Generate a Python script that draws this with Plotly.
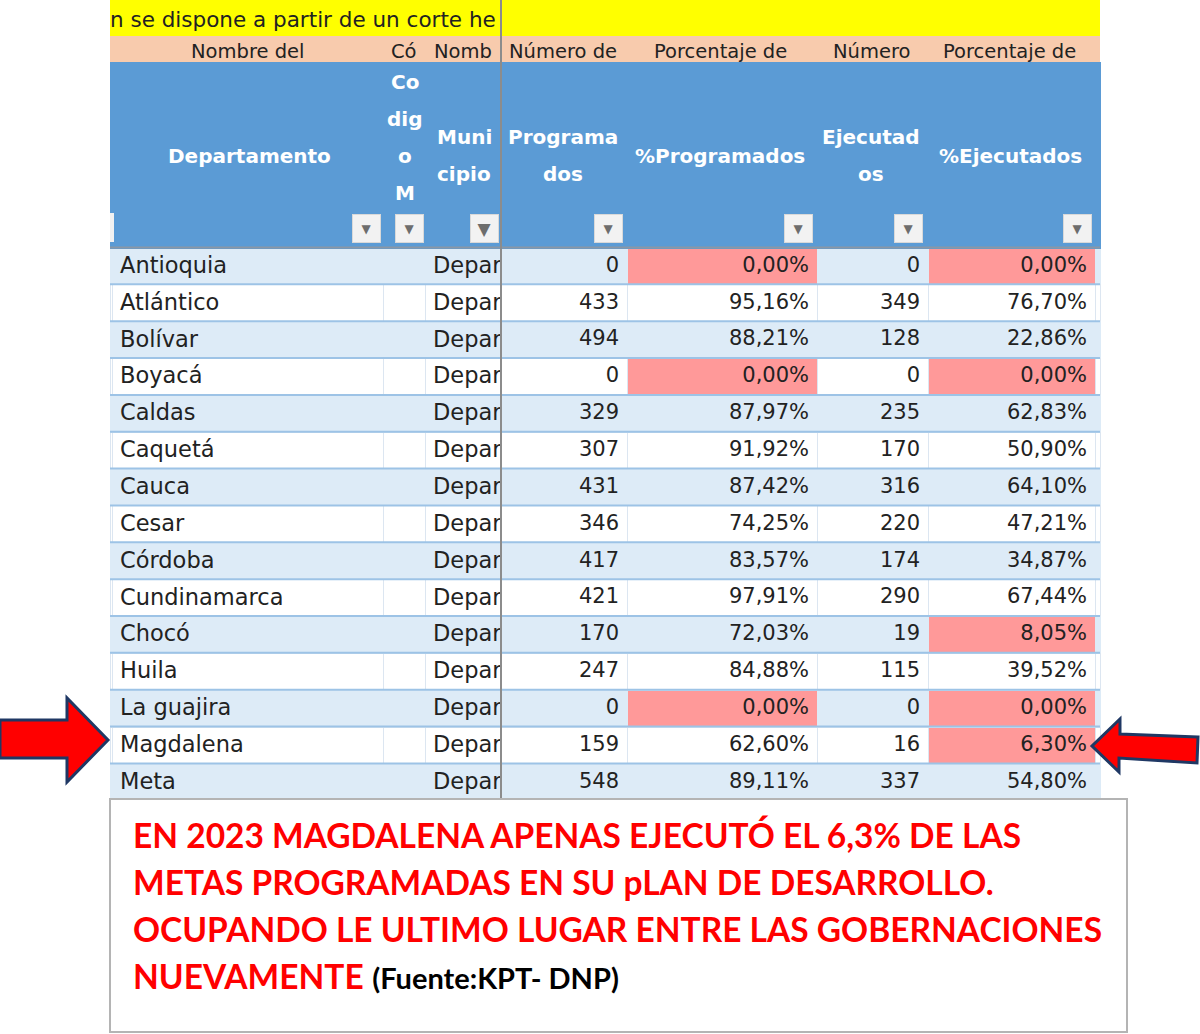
import plotly.graph_objects as go

W, H = 1200, 1034

# table content
departamentos = ['Antioquia', 'Atlántico', 'Bolívar', 'Boyacá', 'Caldas', 'Caquetá', 'Cauca', 'Cesar',
	'Córdoba', 'Cundinamarca', 'Chocó', 'Huila', 'La guajira', 'Magdalena', 'Meta']
municipio = ['Depar'] * len(departamentos)
programados = [0, 433, 494, 0, 329, 307, 431, 346, 417, 421, 170, 247, 0, 159, 548]
pct_programados = ['0,00%', '95,16%', '88,21%', '0,00%', '87,97%', '91,92%', '87,42%', '74,25%',
	'83,57%', '97,91%', '72,03%', '84,88%', '0,00%', '62,60%', '89,11%']
ejecutados = [0, 349, 128, 0, 235, 170, 316, 220, 174, 290, 19, 115, 0, 16, 337]
pct_ejecutados = ['0,00%', '76,70%', '22,86%', '0,00%', '62,83%', '50,90%', '64,10%', '47,21%',
	'34,87%', '67,44%', '8,05%', '39,52%', '0,00%', '6,30%', '54,80%']
col_edges = [110, 112, 383, 425, 501, 627, 817, 928, 1095, 1100]
top_labels = ['Nombre del', 'Có', 'Nomb', 'Número de', 'Porcentaje de', 'Número', 'Porcentaje de']
top_label_x = [247, 404, 463, 563, 720, 871, 1009]
head_labels = [['Departamento'], ['Co', 'dig', 'o', 'M'], ['Muni', 'cipio'], ['Programa', 'dos'],
	['%Programados'], ['Ejecutad', 'os'], ['%Ejecutados']]
head_x = [249, 405, 464, 563, 720, 871, 1010]
head_y = [156, 82, 137, 137, 156, 137, 156]
filter_x = [366, 409, 484, 609, 798, 909, 1077]
filter_size = [12, 12, 17, 12, 12, 12, 12]
message_lines = ['EN 2023 MAGDALENA APENAS EJECUTÓ EL 6,3% DE LAS',
	'METAS PROGRAMADAS EN SU pLAN DE DESARROLLO.',
	'OCUPANDO LE ULTIMO LUGAR ENTRE LAS GOBERNACIONES',
	'NUEVAMENTE']

# colours
LIGHT, WHITE, PINK = '#ddebf7', '#ffffff', '#ff9999'
BLUE, PEACH, YELLOW = '#5b9bd5', '#f8cbad', '#ffff00'
ROW_LINE = '#9dc3e6'
BODY_FONT = 'DejaVu Sans'
ROW_H = 36.85


def px(x):
	return x / W


def py(y):
	return 1 - y / H


def path(points):
	return 'M ' + ' L '.join(f'{px(x):.5f},{py(y):.5f}' for x, y in points) + ' Z'


n = len(departamentos)
row_fill = [LIGHT if i % 2 == 0 else WHITE for i in range(n)]
row_edge = [LIGHT if i % 2 == 0 else '#dce6f1' for i in range(n)]
fill_prog = [PINK if v == 0 else c for v, c in zip(programados, row_fill)]
fill_ejec = [PINK if float(p[:-1].replace(',', '.')) < 10 else c for p, c in zip(pct_ejecutados, row_fill)]
blank = [''] * n

fig = go.Figure(go.Table(
	domain={'x': [px(col_edges[0]), px(col_edges[-1])], 'y': [py(801.5), py(62)]},
	columnwidth=[b - a for a, b in zip(col_edges, col_edges[1:])],
	header={
		'values': [''] * 9,
		'height': 186,
		'fill': {'color': BLUE},
		'line': {'color': BLUE, 'width': 1},
	},
	cells={
		'values': [blank, departamentos, blank, municipio, programados, pct_programados, ejecutados, pct_ejecutados, blank],
		'height': ROW_H,
		'align': ['left', 'left', 'left', 'left', 'right', 'right', 'right', 'right', 'left'],
		'fill': {'color': [row_fill, row_fill, row_fill, row_fill, row_fill, fill_prog, row_fill, fill_ejec, row_fill]},
		'line': {'color': [row_edge] * 9, 'width': 1},
		'font': {'family': BODY_FONT, 'size': [21, 22.5, 21, 22.5, 21, 21, 21, 21, 21], 'color': '#222222'},
	},
))

shapes = [
	{'type': 'rect', 'x0': px(110), 'x1': px(1100), 'y0': py(0), 'y1': py(36), 'xref': 'paper', 'yref': 'paper',
		'fillcolor': YELLOW, 'line': {'width': 0}},
	{'type': 'rect', 'x0': px(110), 'x1': px(1100), 'y0': py(36), 'y1': py(62), 'xref': 'paper', 'yref': 'paper',
		'fillcolor': PEACH, 'line': {'width': 0}},
	{'type': 'rect', 'x0': px(110), 'x1': px(114), 'y0': py(213), 'y1': py(242), 'xref': 'paper', 'yref': 'paper',
		'fillcolor': '#f2f2f2', 'line': {'width': 0}, 'layer': 'above'},
]
# row rules
for i in range(n + 1):
	y = 247.5 + i * ROW_H
	shapes.append({'type': 'line', 'x0': px(110), 'x1': px(1100), 'y0': py(y), 'y1': py(y), 'xref': 'paper', 'yref': 'paper',
		'line': {'color': '#8a97a6' if i == 0 else ROW_LINE, 'width': 2}, 'layer': 'above'})
# message box goes over the last row rule
shapes.append({'type': 'rect', 'x0': px(110), 'x1': px(1127), 'y0': py(799), 'y1': py(1032), 'xref': 'paper', 'yref': 'paper',
	'fillcolor': WHITE, 'line': {'color': '#b4b4b4', 'width': 2}, 'layer': 'above'})
# freeze pane line
shapes.append({'type': 'line', 'x0': px(501), 'x1': px(501), 'y0': py(0), 'y1': py(798), 'xref': 'paper', 'yref': 'paper',
	'line': {'color': '#8c8c8c', 'width': 2}, 'layer': 'above'})
# arrows
left_arrow = [(0, 720), (67, 720), (67, 698), (108, 740), (67, 782), (67, 758), (0, 758)]
right_arrow = [(1198, 737), (1120, 734), (1120, 719), (1092, 746), (1119, 772), (1119, 758), (1197, 763)]
for arrow in (left_arrow, right_arrow):
	shapes.append({'type': 'path', 'path': path(arrow), 'xref': 'paper', 'yref': 'paper',
		'fillcolor': '#ff0000', 'line': {'color': '#1f3864', 'width': 3}, 'layer': 'above'})


def note(x, y, text, anchor='center', **kwargs):
	return {'x': px(x), 'y': py(y), 'xref': 'paper', 'yref': 'paper', 'xanchor': anchor, 'yanchor': 'middle',
		'showarrow': False, 'text': text, **kwargs}


annotations = [note(108, 20, 'n se dispone a partir de un corte he', 'left',
	font={'family': BODY_FONT, 'size': 21.5, 'color': '#222222'})]
for x, label in zip(top_label_x, top_labels):
	annotations.append(note(x, 51, label, font={'family': BODY_FONT, 'size': 19.5, 'color': '#222222'}))
for x, y0, lines in zip(head_x, head_y, head_labels):
	for j, line in enumerate(lines):
		annotations.append(note(x, y0 + j * 37, f'<b>{line}</b>',
			font={'family': BODY_FONT, 'size': 20, 'color': '#ffffff'}))
for x, size in zip(filter_x, filter_size):
	annotations.append(note(x, 228, '▼', width=27, height=27, bgcolor='#f2f2f2', bordercolor='#d9d9d9',
		borderwidth=1, borderpad=0, font={'family': BODY_FONT, 'size': size, 'color': '#6d6d6d'}))
for j, line in enumerate(message_lines):
	text = f'<b>{line}</b>'
	if j == 3:
		text += ' <b><span style="font-size:29px;color:#000000">(Fuente:KPT- DNP)</span></b>'
	annotations.append(note(131, 835 + j * 47, text, 'left', font={'family': 'Lato', 'size': 33.5, 'color': '#ff0000'}))

fig.update_layout(
	width=W, height=H,
	margin={'t': 0, 'r': 0, 'b': 0, 'l': 0},
	paper_bgcolor='#ffffff',
	shapes=shapes,
	annotations=annotations,
)
fig.write_html('out.html', config={'displayModeBar': False}, post_script="document.body.style.margin = '0';")
